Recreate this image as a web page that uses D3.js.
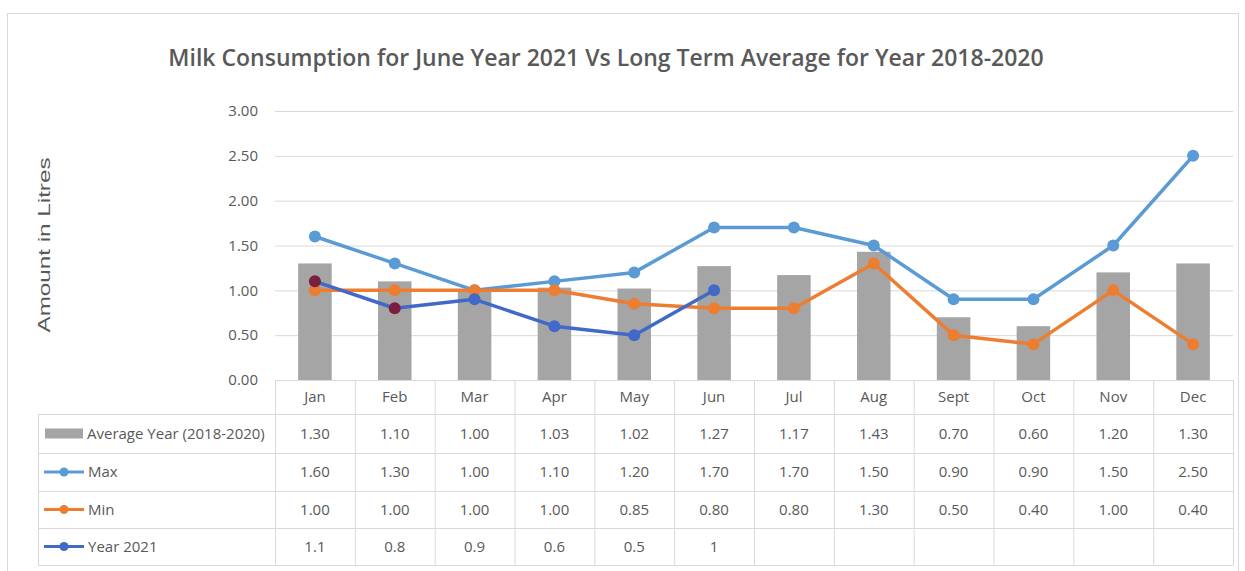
<!DOCTYPE html>
<html>
<head>
<meta charset="utf-8">
<script src="https://cdn.jsdelivr.net/npm/d3@7"></script>
<style>
  html, body { margin: 0; padding: 0; background: #fff; }
  svg { display: block; }
</style>
</head>
<body>
<svg id="chart" width="1245" height="571"></svg>
<script>
// Monthly milk consumption data (litres)
const months = ["Jan", "Feb", "Mar", "Apr", "May", "Jun", "Jul", "Aug", "Sept", "Oct", "Nov", "Dec"];
const averageYear = [1.30, 1.10, 1.00, 1.03, 1.02, 1.27, 1.17, 1.43, 0.70, 0.60, 1.20, 1.30];
const maxValues = [1.60, 1.30, 1.00, 1.10, 1.20, 1.70, 1.70, 1.50, 0.90, 0.90, 1.50, 2.50];
const minValues = [1.00, 1.00, 1.00, 1.00, 0.85, 0.80, 0.80, 1.30, 0.50, 0.40, 1.00, 0.40];
const year2021 = [1.1, 0.8, 0.9, 0.6, 0.5, 1, null, null, null, null, null, null];
const yTicks = [0, 0.5, 1, 1.5, 2, 2.5, 3];

const seriesNames = ["Average Year (2018-2020)", "Max", "Min", "Year 2021"];

const svg = d3.select("#chart");
const font = "'Open Sans', sans-serif";
const textColor = "#595959";
const gridColor = "#d9d9d9";

const plot = { left: 275, right: 1233, top: 111, bottom: 380 };
const tableLeft = 38;
const rowEdges = [380, 414, 453, 491, 528, 565];

// Outer chart frame
svg.append("rect")
  .attr("x", 7.5).attr("y", 13.5)
  .attr("width", 1231).attr("height", 560)
  .attr("fill", "#fff").attr("stroke", "#d9d9d9");

const x = d3.scaleBand().domain(months).range([plot.left, plot.right]).paddingInner(0).paddingOuter(0);
const y = d3.scaleLinear().domain([0, 3]).range([plot.bottom, plot.top]);

// Title
svg.append("text")
  .attr("x", 606).attr("y", 66)
  .attr("text-anchor", "middle")
  .attr("font-family", "'Open Sans', sans-serif")
  .attr("font-weight", 600)
  .attr("font-size", 23)
  .attr("fill", textColor)
  .text("Milk Consumption for June Year 2021 Vs Long Term Average for Year 2018-2020");

// Y axis title
svg.append("text")
  .attr("transform", "translate(50,245) rotate(-90)")
  .attr("text-anchor", "middle")
  .attr("font-family", "'Liberation Sans', sans-serif")
  .attr("font-size", 16)
  .attr("textLength", 175)
  .attr("lengthAdjust", "spacingAndGlyphs")
  .attr("fill", textColor)
  .text("Amount in Litres");

// Gridlines and tick labels
const yAxis = d3.axisLeft(y).tickValues(yTicks).tickFormat(d3.format(".2f"))
  .tickSize(-(plot.right - plot.left)).tickPadding(17);
const gy = svg.append("g").attr("transform", `translate(${plot.left},0)`).call(yAxis);
gy.select(".domain").remove();
gy.selectAll(".tick line").attr("stroke", gridColor).attr("stroke-width", 1);
gy.selectAll(".tick text")
  .attr("font-family", font).attr("font-size", 15).attr("fill", textColor);

// Bars: 3-year average
const barW = x.bandwidth() * 0.42;
svg.append("g").selectAll("rect").data(averageYear).join("rect")
  .attr("x", (d, i) => x(months[i]) + (x.bandwidth() - barW) / 2)
  .attr("y", d => y(d))
  .attr("width", barW)
  .attr("height", d => y(0) - y(d))
  .attr("fill", "#a5a5a5");

// Line series
const lineSeries = [
  { values: maxValues, color: "#5b9bd5" },
  { values: minValues, color: "#ed7d31" },
  { values: year2021, color: "#4169c8", markerColors: ["#7b1f3e", "#7b1f3e"] }
];
const cx = i => x(months[i]) + x.bandwidth() / 2;
const line = d3.line().defined(d => d != null).x((d, i) => cx(i)).y(d => y(d));

lineSeries.forEach(s => {
  svg.append("path").datum(s.values)
    .attr("d", line).attr("fill", "none")
    .attr("stroke", s.color).attr("stroke-width", 3.5).attr("stroke-linejoin", "round");
  svg.append("g").selectAll("circle")
    .data(s.values.map((v, i) => ({ v, i })).filter(p => p.v != null))
    .join("circle")
    .attr("cx", p => cx(p.i)).attr("cy", p => y(p.v)).attr("r", 6)
    .attr("fill", p => (s.markerColors && s.markerColors[p.i]) || s.color);
});

// Data table below the plot
const tbl = svg.append("g");
// horizontal rules
rowEdges.forEach((ry, k) => {
  tbl.append("line")
    .attr("x1", k === 0 ? plot.left : tableLeft).attr("x2", plot.right)
    .attr("y1", ry + 0.5).attr("y2", ry + 0.5)
    .attr("stroke", gridColor);
});
// vertical rules
tbl.append("line").attr("x1", tableLeft + 0.5).attr("x2", tableLeft + 0.5)
  .attr("y1", rowEdges[1]).attr("y2", rowEdges[5]).attr("stroke", gridColor);
months.concat(["end"]).forEach((m, i) => {
  const vx = i < months.length ? x(m) : plot.right;
  tbl.append("line").attr("x1", vx + 0.5).attr("x2", vx + 0.5)
    .attr("y1", rowEdges[0]).attr("y2", rowEdges[5]).attr("stroke", gridColor);
});

// month headers
tbl.selectAll("text.month").data(months).join("text")
  .attr("class", "month")
  .attr("x", m => x(m) + x.bandwidth() / 2)
  .attr("y", (rowEdges[0] + rowEdges[1]) / 2 + 5)
  .attr("text-anchor", "middle")
  .attr("font-family", font).attr("font-size", 15).attr("fill", textColor)
  .text(m => m);

// value rows
const rows = [
  { values: averageYear, fmt: d3.format(".2f") },
  { values: maxValues, fmt: d3.format(".2f") },
  { values: minValues, fmt: d3.format(".2f") },
  { values: year2021, fmt: d => String(d) }
];
rows.forEach((r, k) => {
  const cy = (rowEdges[k + 1] + rowEdges[k + 2]) / 2 + 5;
  tbl.append("g").selectAll("text").data(r.values).join("text")
    .attr("x", (d, i) => cx(i)).attr("y", cy)
    .attr("text-anchor", "middle")
    .attr("font-family", font).attr("font-size", 15).attr("fill", textColor)
    .text(d => d == null ? "" : r.fmt(d));

  // legend keys
  const ly = (rowEdges[k + 1] + rowEdges[k + 2]) / 2;
  if (k === 0) {
    tbl.append("rect").attr("x", 45).attr("y", ly - 5).attr("width", 38).attr("height", 10).attr("fill", "#a5a5a5");
  } else {
    const c = lineSeries[k - 1].color;
    tbl.append("line").attr("x1", 44).attr("x2", 84).attr("y1", ly).attr("y2", ly)
      .attr("stroke", c).attr("stroke-width", 3);
    tbl.append("circle").attr("cx", 64).attr("cy", ly).attr("r", 4.5).attr("fill", c);
  }
  tbl.append("text")
    .attr("x", k === 0 ? 87 : 88).attr("y", ly + 5)
    .attr("font-family", font).attr("font-size", 15).attr("fill", textColor)
    .text(seriesNames[k]);
});
</script>
</body>
</html>
